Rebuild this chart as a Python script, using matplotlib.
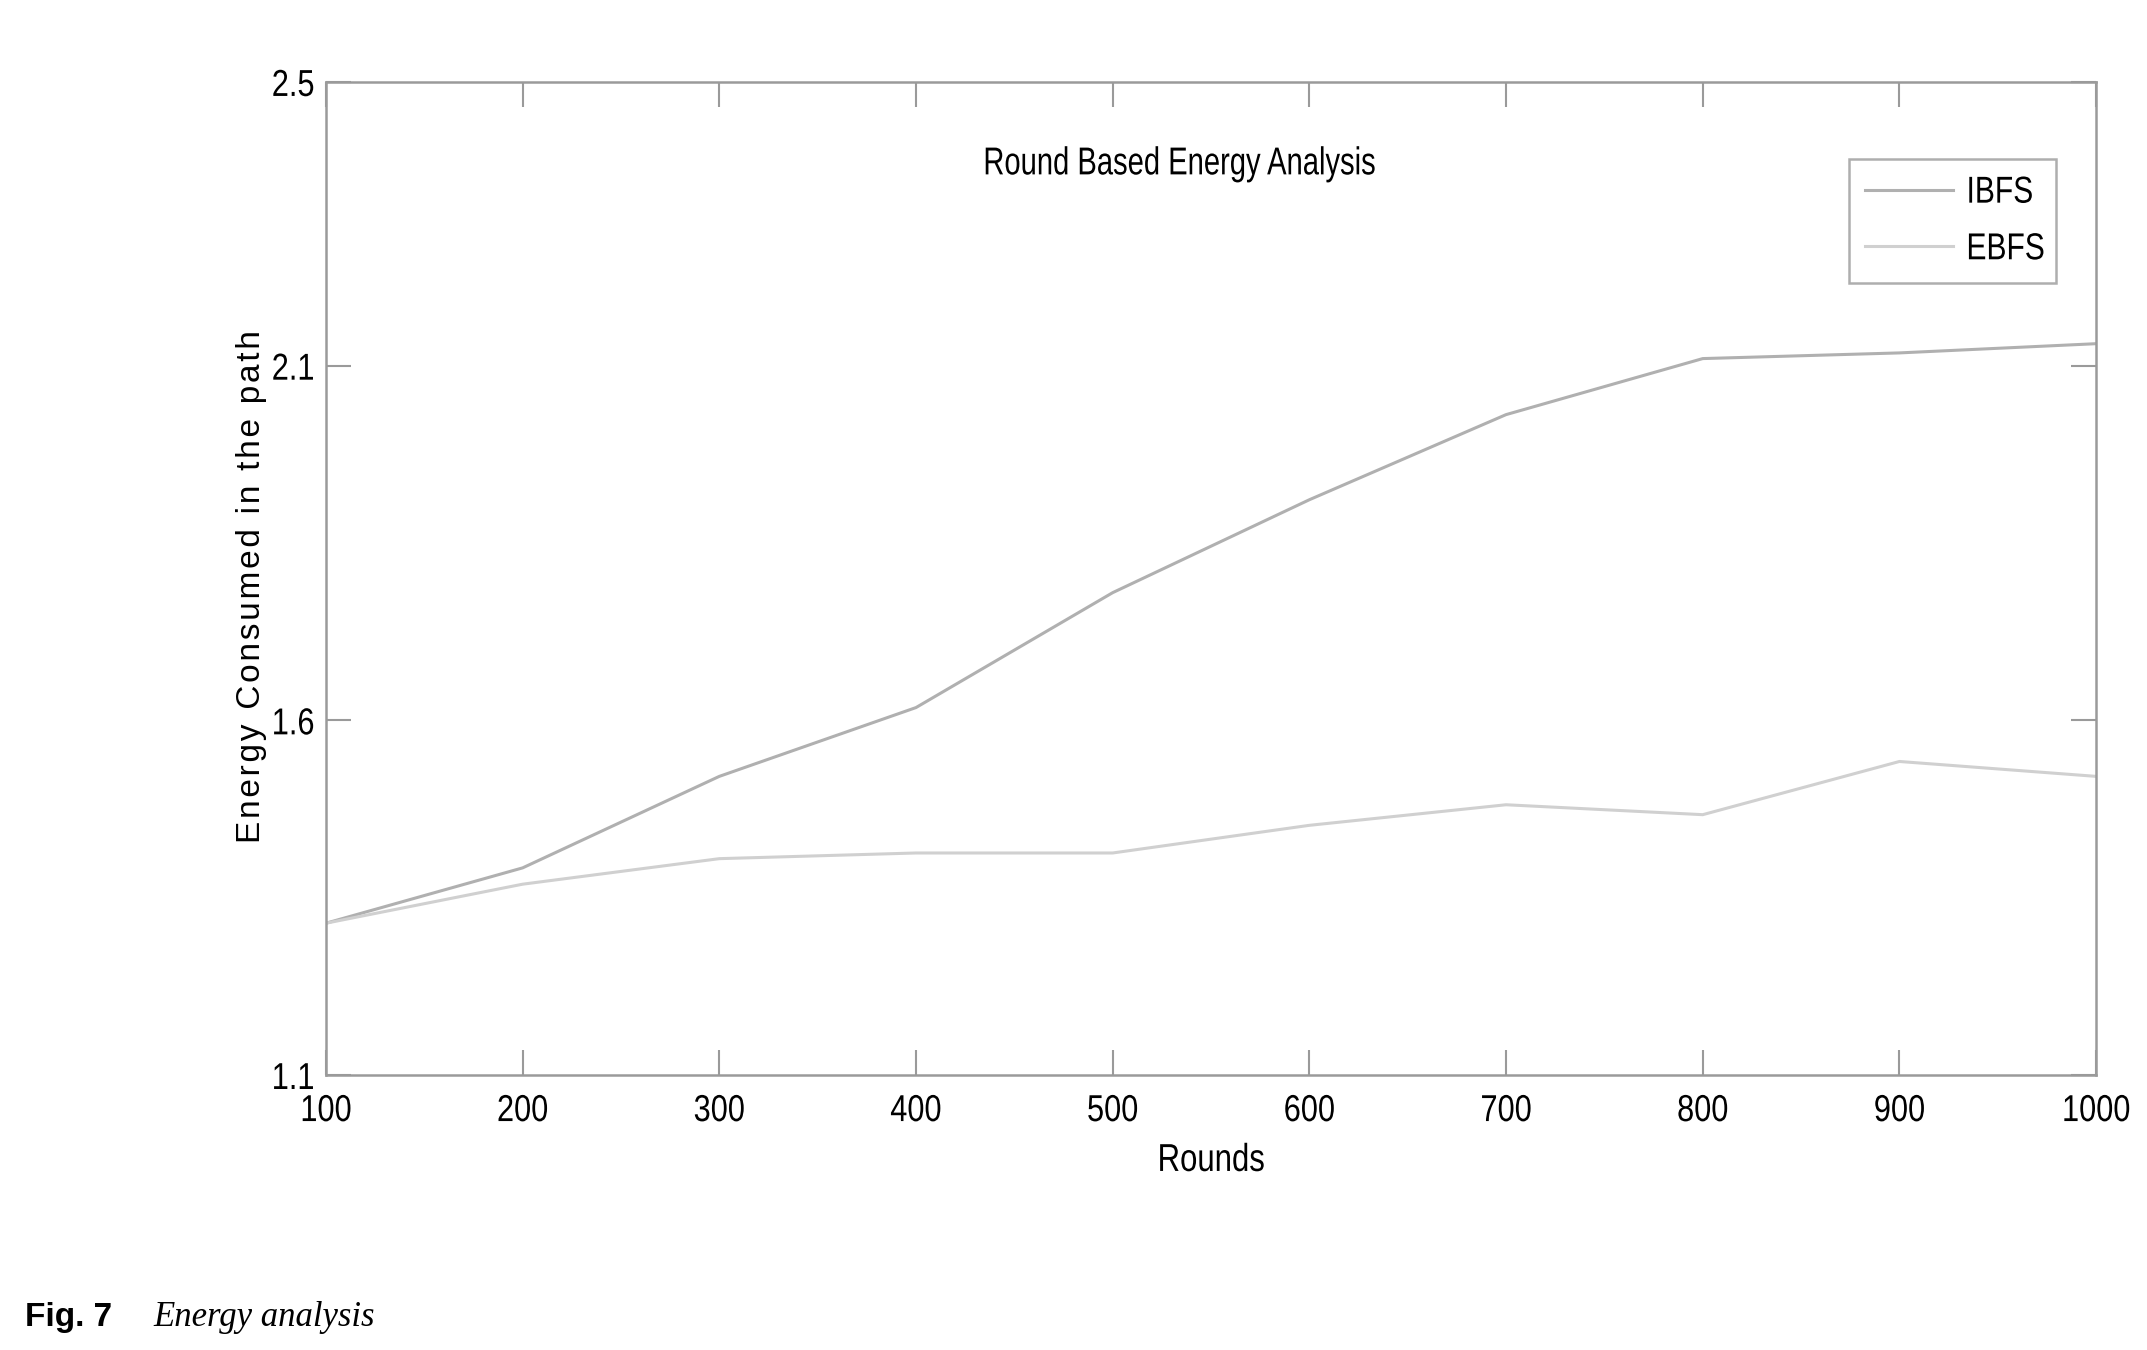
import matplotlib
matplotlib.use("Agg")
import matplotlib.pyplot as plt
from matplotlib import patheffects
from matplotlib.transforms import Affine2D

rounds = [100, 200, 300, 400, 500, 600, 700, 800, 900, 1000]
ibfs = [1.314, 1.392, 1.521, 1.618, 1.780, 1.911, 2.031, 2.110, 2.118, 2.131]
ebfs = [1.314, 1.369, 1.405, 1.413, 1.413, 1.452, 1.481, 1.467, 1.542, 1.521]
y_ticks = [1.1, 1.6, 2.1, 2.5]
y_labels = ["1.1", "1.6", "2.1", "2.5"]

FONT = "Liberation Sans"


class Squeeze(patheffects.AbstractPathEffect):
    # narrow the glyphs horizontally, like the condensed Helvetica of the original
    def __init__(self, sx=0.8, anchor="center", dx=0):
        super().__init__()
        self.sx = sx
        self.anchor = anchor
        self.dx = dx  # extra shift in points

    def draw_path(self, renderer, gc, tpath, affine, rgbFace=None):
        ext = tpath.get_extents()
        if self.anchor == "left":
            a = ext.x0
        elif self.anchor == "right":
            a = ext.x1
        else:
            a = 0.5 * (ext.x0 + ext.x1)
        t = Affine2D().translate(-a, 0).scale(self.sx, 1).translate(a, 0) + affine
        if self.dx:
            t = t + Affine2D().translate(renderer.points_to_pixels(self.dx), 0)
        renderer.draw_path(gc, tpath, t, rgbFace)


fig = plt.figure(figsize=(21.47, 13.5), dpi=100)
ax = fig.add_axes((0.1518, 0.2037, 0.8245, 0.7356))

ax.plot(rounds, ibfs, color="#b0b0b0", lw=2.2, label="IBFS")
ax.plot(rounds, ebfs, color="#d0d0d0", lw=2.2, label="EBFS")

ax.set_xlim(100, 1000)
ax.set_ylim(1.1, 2.5)
ax.set_xticks(rounds)
ax.set_yticks(y_ticks)
ax.set_yticklabels(y_labels)
ax.tick_params(direction="in", length=18, width=1.5, color="#9a9a9a",
               top=True, right=True, labelsize=27)
ax.tick_params(axis="x", pad=13)
ax.tick_params(axis="y", pad=8)
for lab in ax.get_xticklabels():
    lab.set_family(FONT)
    lab.set_path_effects([Squeeze(0.82, "center")])
for lab in ax.get_yticklabels():
    lab.set_family(FONT)
    lab.set_path_effects([Squeeze(0.82, "right")])
for s in ax.spines.values():
    s.set_color("#9a9a9a")
    s.set_linewidth(1.8)

ax.text(0.482, 0.917, "Round Based Energy Analysis", transform=ax.transAxes,
        ha="center", va="center", fontsize=28, family=FONT,
        path_effects=[Squeeze(0.75, "center")])
xl = ax.set_xlabel("Rounds", fontsize=28, family=FONT, labelpad=10)
xl.set_path_effects([Squeeze(0.8, "center")])

yl = ax.set_ylabel("\u200a".join("Energy Consumed in the path"),
                   fontsize=24, family=[FONT, "DejaVu Sans"])
yl.set_va("center")
ax.yaxis.set_label_coords(-0.042, 0.492)

leg = ax.legend(loc="upper right", bbox_to_anchor=(0.9774, 0.9225),
                borderaxespad=0, prop={"family": FONT, "size": 27},
                frameon=True, fancybox=False, handlelength=2.37,
                handletextpad=-0.3, borderpad=0.42, labelspacing=0.55)
leg.get_frame().set_edgecolor("#9a9a9a")
leg.get_frame().set_linewidth(1.8)
for t in leg.get_texts():
    t.set_path_effects([Squeeze(0.8, "left", dx=17)])

fig.text(0.0116, 0.018, "Fig. 7", fontsize=24, fontweight="bold",
         family=FONT, va="baseline")
fig.text(0.0713, 0.018, "Energy analysis", fontsize=25, style="italic",
         family="Liberation Serif", va="baseline")

fig.savefig("out.png", dpi=100)
